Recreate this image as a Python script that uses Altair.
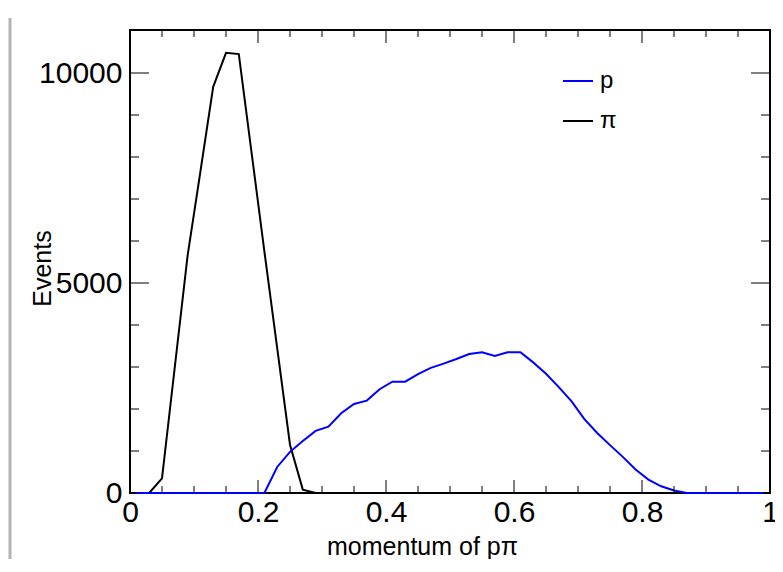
import altair as alt
import pandas as pd

# ---- data (histogram bin centres, width 0.02) ----
bin_centers = [round(0.01 + 0.02 * i, 2) for i in range(50)]

p_counts = [0, 0, 0, 0, 0, 0, 0, 0, 0, 0, 0,
            620, 980, 1240, 1480, 1580, 1900, 2120, 2200, 2470, 2650,
            2650, 2830, 2980, 3080, 3190, 3310, 3350, 3260, 3350, 3350,
            3110, 2840, 2520, 2180, 1760, 1430, 1140, 860, 560, 320,
            160, 60,
            0, 0, 0, 0, 0, 0, 0]

pi_counts = [0, 0, 350, 3000, 5650, 7650, 9670, 10480, 10450, 8100,
             5750, 3450, 1150, 80,
             0, 0, 0, 0, 0, 0, 0, 0, 0, 0, 0, 0, 0, 0, 0, 0, 0, 0,
             0, 0, 0, 0, 0, 0, 0, 0, 0, 0, 0, 0, 0, 0, 0, 0, 0, 0]

series_names = ["p", "π"]
series_colors = ["#0000ff", "#000000"]

x_label_values = [0, 0.2, 0.4, 0.6, 0.8, 1]
y_label_values = [0, 5000, 10000]
x_major_ticks = [0.2, 0.4, 0.6, 0.8]
x_minor_ticks = [0.05, 0.1, 0.15, 0.25, 0.3, 0.35, 0.45, 0.5, 0.55,
                 0.65, 0.7, 0.75, 0.85, 0.9, 0.95]
y_major_ticks = [5000, 10000]
y_minor_ticks = [1000, 2000, 3000, 4000, 6000, 7000, 8000, 9000]

W, H = 640, 463
FONT = "Liberation Sans"

df = pd.DataFrame({
    "x": bin_centers * 2,
    "y": p_counts + pi_counts,
    "series": ["p"] * 50 + ["π"] * 50,
})

xs = alt.Scale(domain=[0, 1], nice=False, zero=False)
ys = alt.Scale(domain=[0, 11024], nice=False)

x_axis = alt.Axis(values=x_label_values, format="~g", ticks=False, domain=False,
                  grid=False, labelFlush=False, labelOverlap=False,
                  labelPadding=4, title="momentum of pπ",
                  titleX=292, titleY=61, titleAlign="center",
                  titleBaseline="alphabetic", titleAnchor="start")
y_axis = alt.Axis(values=y_label_values, format="d", ticks=False, domain=False,
                  grid=False, labelPadding=8, labelFlush=False, labelOverlap=False,
                  title="Events", titleAngle=270, titleX=-80, titleY=238,
                  titleAlign="center", titleBaseline="alphabetic", titleAnchor="start")

X_ENC = alt.X("x:Q", scale=xs, axis=x_axis)
Y_ENC = alt.Y("y:Q", scale=ys, axis=y_axis)

color = alt.Color(
    "series:N",
    scale=alt.Scale(domain=series_names, range=series_colors),
    legend=alt.Legend(title=None, orient="none", legendX=432, legendY=35,
                      symbolType="stroke", symbolSize=900, symbolStrokeWidth=2,
                      labelFont=FONT, labelFontSize=24, labelOffset=6,
                      rowPadding=12, padding=0, labelColor="black"),
)

pi_layer = alt.Chart(df).transform_filter(alt.datum.series == "π").mark_line(
    strokeWidth=2).encode(x=X_ENC, y=Y_ENC, color=color)
p_layer = alt.Chart(df).transform_filter(alt.datum.series == "p").mark_line(
    strokeWidth=2).encode(x=X_ENC, y=Y_ENC, color=color)


def xticks(vals, length):
    d = pd.DataFrame({"x": vals})
    bottom = alt.Chart(d).mark_rule(color="black", strokeWidth=1).encode(
        x=X_ENC, y=alt.value(H), y2=alt.value(H - length))
    top = alt.Chart(d).mark_rule(color="black", strokeWidth=1).encode(
        x=X_ENC, y=alt.value(0), y2=alt.value(length))
    return [bottom, top]


def yticks(vals, length):
    d = pd.DataFrame({"y": vals})
    left = alt.Chart(d).mark_rule(color="black", strokeWidth=1).encode(
        y=Y_ENC, x=alt.value(0), x2=alt.value(length))
    right = alt.Chart(d).mark_rule(color="black", strokeWidth=1).encode(
        y=Y_ENC, x=alt.value(W), x2=alt.value(W - length))
    return [left, right]


tick_layers = (xticks(x_major_ticks, 13) + xticks(x_minor_ticks, 7)
               + yticks(y_major_ticks, 19) + yticks(y_minor_ticks, 9))

side_bar = alt.Chart(pd.DataFrame({"a": [0]})).mark_rule(
    color="#b4b4b4", strokeWidth=3).encode(
    x=alt.value(-120), y=alt.value(-12), y2=alt.value(H + 75))

chart = alt.layer(pi_layer, p_layer, *tick_layers, side_bar).properties(
    width=W, height=H,
    autosize=alt.AutoSizeParams(type="none"),
    padding={"left": 122, "top": 22, "right": 5, "bottom": 66},
    background="white",
).configure_view(
    stroke="black", strokeWidth=2
).configure_axis(
    labelFont=FONT, labelFontSize=30, labelColor="black",
    titleFont=FONT, titleFontSize=25, titleFontWeight="normal", titleColor="black",
)

chart.save("out.html", embed_options={"renderer": "svg", "actions": False})
